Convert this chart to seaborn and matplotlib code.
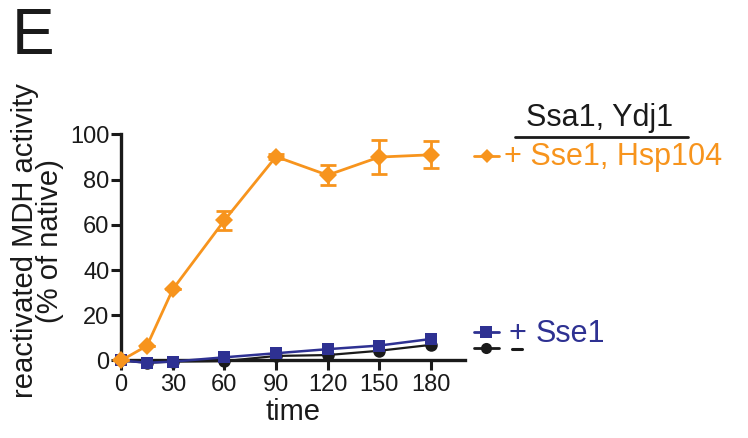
import matplotlib
matplotlib.use("Agg")
import matplotlib.pyplot as plt
from matplotlib.lines import Line2D
import seaborn as sns
import pandas as pd
import numpy as np

time = [0, 15, 30, 60, 90, 120, 150, 180]
hsp104 = [0, 6.5, 31.5, 62, 90.2, 82, 90, 91]
hsp104_err = [0, 0, 0, 4.3, 1.0, 4.5, 7.7, 6.0]
sse1 = [0, -1, -0.5, 1.4, 3.2, 5, 6.6, 9.5]
minus = [0, -1, -0.5, -0.3, 2.0, 2.4, 4.3, 6.9]

xticks = [0, 30, 60, 90, 120, 150, 180]
yticks = [0, 20, 40, 60, 80, 100]

ORANGE = "#F7941D"
BLUE = "#2E3192"
BLACK = "#1a1a1a"

sns.set_style("ticks")
plt.rcParams['font.family'] = ['Liberation Sans', 'DejaVu Sans']

fig = plt.figure(figsize=(7.48, 4.38), dpi=100)
ax = fig.add_axes([0.162, 0.177, 0.46, 0.516])

df = pd.DataFrame({"time": time * 3,
                   "value": minus + sse1 + hsp104,
                   "series": ["-"] * 8 + ["+ Sse1"] * 8 + ["+ Sse1, Hsp104"] * 8})

styles = {"-": (BLACK, "o", 9, 1.6),
          "+ Sse1": (BLUE, "s", 9, 1.8),
          "+ Sse1, Hsp104": (ORANGE, "D", 9, 2.0)}
for i, (name, (c, m, ms, lw)) in enumerate(styles.items()):
    sub = df[df.series == name]
    sns.lineplot(data=sub, x="time", y="value", ax=ax, color=c, marker=m,
                 markersize=ms, linewidth=lw, markeredgewidth=0,
                 zorder=3 + i, clip_on=False, legend=False)

ax.errorbar(time, hsp104, yerr=hsp104_err, fmt="none", ecolor=ORANGE,
            elinewidth=2, capsize=6, capthick=2, zorder=5, clip_on=False)

ax.set_xlim(0, 200)
ax.set_ylim(0, 100)
ax.set_xticks(xticks)
ax.set_yticks(yticks)
ax.tick_params(axis="both", labelsize=17, width=2.2, length=7, color=BLACK,
               labelcolor=BLACK)
ax.tick_params(axis="y", pad=1.5)
ax.tick_params(axis="x", pad=3)
for s in ["left", "bottom"]:
    ax.spines[s].set_linewidth(2.4)
    ax.spines[s].set_color(BLACK)
sns.despine(ax=ax)
ax.set_xlabel("time", fontsize=21, color=BLACK, labelpad=1)
ax.set_ylabel("reactivated MDH activity\n(% of native)", fontsize=21,
              color=BLACK, labelpad=3, linespacing=0.9)
ax.yaxis.set_label_coords(-0.165, 0.53)

# panel letter
fig.text(0.016, 0.985, "E", fontsize=46, va="top", ha="left", color=BLACK)

# legend-like annotation
W, H = 748, 438
def fx(x): return x / W
def fy(y): return 1 - y / H

FS = 22
fig.text(fx(600), fy(118), "Ssa1, Ydj1", fontsize=FS, ha="center", va="center", color=BLACK)
fig.add_artist(Line2D([fx(515), fx(688)], [fy(137), fy(137)], color=BLACK, lw=2))

fig.add_artist(Line2D([fx(474), fx(499)], [fy(156), fy(156)], color=ORANGE, lw=2))
fig.add_artist(Line2D([fx(487)], [fy(156)], color=ORANGE, marker="D", ms=7, mew=0))
fig.text(fx(504), fy(157), "+ Sse1, Hsp104", fontsize=FS, ha="left", va="center", color=ORANGE)

fig.add_artist(Line2D([fx(474), fx(499)], [fy(332), fy(332)], color=BLUE, lw=2))
fig.add_artist(Line2D([fx(486)], [fy(332)], color=BLUE, marker="s", ms=8, mew=0))
fig.text(fx(508), fy(334), "+", fontsize=FS, ha="left", va="center", color=BLUE)
fig.text(fx(536), fy(334), "Sse1", fontsize=FS, ha="left", va="center", color=BLUE)

fig.add_artist(Line2D([fx(474), fx(499)], [fy(348), fy(348)], color=BLACK, lw=2))
fig.add_artist(Line2D([fx(486)], [fy(348)], color=BLACK, marker="o", ms=8, mew=0))
fig.add_artist(Line2D([fx(512), fx(522)], [fy(349), fy(349)], color=BLACK, lw=2.2))

fig.savefig("out.png", dpi=100)
